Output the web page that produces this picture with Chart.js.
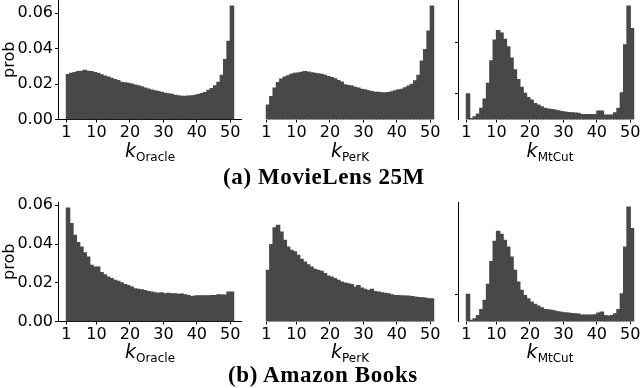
<!DOCTYPE html>
<html>
<head>
<meta charset="utf-8">
<script src="https://cdn.jsdelivr.net/npm/chart.js@4/dist/chart.umd.min.js"></script>
<style>
  body { margin: 0; width: 640px; height: 388px; overflow: hidden; background: #fff; position: relative; }
  canvas { position: absolute; }
  .xl { position: absolute; transform: translate(-50%, -50%); font-family: "DejaVu Sans"; font-size: 19px; white-space: nowrap; color: #000; }
  .xl sub { font-style: normal; font-size: 12px; vertical-align: -4px; }
  .cap { position: absolute; transform: translate(-50%, -50%); font-family: "Liberation Serif"; font-weight: bold; font-size: 23px; letter-spacing: 0.6px; white-space: nowrap; color: #000; }
</style>
</head>
<body>
<canvas id="ml1"></canvas><canvas id="ml2"></canvas><canvas id="ml3"></canvas>
<canvas id="ab1"></canvas><canvas id="ab2"></canvas><canvas id="ab3"></canvas>

<div class="xl" style="left:150px;top:151px"><i>k</i><sub>Oracle</sub></div>
<div class="xl" style="left:350px;top:151px"><i>k</i><sub>PerK</sub></div>
<div class="xl" style="left:550px;top:151px"><i>k</i><sub>MtCut</sub></div>
<div class="cap" style="left:324px;top:177px">(a) MovieLens 25M</div>
<div class="xl" style="left:150px;top:352px"><i>k</i><sub>Oracle</sub></div>
<div class="xl" style="left:350px;top:352px"><i>k</i><sub>PerK</sub></div>
<div class="xl" style="left:550px;top:352px"><i>k</i><sub>MtCut</sub></div>
<div class="cap" style="left:323px;top:375px">(b) Amazon Books</div>

<script>
// k = 1..50 (histogram bins [k, k+1))
const ks = [1,2,3,4,5,6,7,8,9,10,11,12,13,14,15,16,17,18,19,20,21,22,23,24,25,
            26,27,28,29,30,31,32,33,34,35,36,37,38,39,40,41,42,43,44,45,46,47,48,49,50];
const xTicks = [1, 10, 20, 30, 40, 50];
const probTicks = [0, 0.02, 0.04, 0.06];
const mlMtCutTicks = [0.05, 0.15];
const abMtCutTicks = [0.05];

// MovieLens 25M
const mlOracle = [0.0253,0.026,0.0265,0.027,0.0272,0.0278,0.0272,0.027,0.0265,0.026,
                  0.0252,0.0245,0.024,0.0232,0.0225,0.022,0.021,0.0207,0.0204,0.02,
                  0.0195,0.019,0.0185,0.0178,0.0172,0.0166,0.0162,0.0158,0.0153,0.0148,
                  0.0145,0.0142,0.0137,0.0133,0.0131,0.0131,0.0132,0.0134,0.0137,0.0141,
                  0.0146,0.0152,0.0165,0.0175,0.019,0.021,0.025,0.0338,0.0442,0.064];
const mlPerK = [0.0081,0.0129,0.0177,0.0209,0.0228,0.0239,0.0247,0.0255,0.026,0.0262,
                0.0266,0.027,0.0268,0.0264,0.026,0.0258,0.0255,0.025,0.0243,0.0237,
                0.023,0.022,0.0211,0.0196,0.0192,0.0188,0.0182,0.0177,0.017,0.0167,
                0.0162,0.0158,0.0154,0.0153,0.0151,0.0151,0.0152,0.0156,0.0162,0.0167,
                0.017,0.0179,0.0188,0.0198,0.0218,0.025,0.033,0.0395,0.05,0.064];
const mlMtCut = [0.05,0.002,0.005,0.0105,0.0216,0.04,0.0706,0.115,0.1556,0.174,
                 0.169,0.157,0.1425,0.12,0.097,0.078,0.063,0.051,0.043,0.038,
                 0.031,0.028,0.025,0.0216,0.0203,0.0196,0.0183,0.017,0.0157,0.0144,
                 0.0137,0.013,0.0124,0.0118,0.0098,0.0098,0.0098,0.0098,0.0098,0.0163,
                 0.0163,0.0085,0.0085,0.0085,0.013,0.0216,0.052,0.146,0.222,0.178];

// Amazon Books
const abOracle = [0.0586,0.0505,0.0445,0.0407,0.0384,0.0355,0.0333,0.029,0.0281,0.0281,
                  0.0252,0.0241,0.0229,0.0221,0.0212,0.0207,0.02,0.0191,0.0186,0.0178,
                  0.0169,0.0166,0.0164,0.0159,0.0155,0.0152,0.0148,0.0145,0.0148,0.0143,
                  0.0145,0.0143,0.0143,0.014,0.0141,0.0138,0.0134,0.0129,0.0131,0.0133,
                  0.0133,0.0133,0.0133,0.0134,0.0134,0.0138,0.0136,0.0136,0.0152,0.0152];
const abPerK = [0.0264,0.0397,0.0483,0.0497,0.0462,0.0419,0.0384,0.0367,0.0359,0.0341,
                0.0321,0.0307,0.0293,0.0281,0.0269,0.0264,0.0259,0.0247,0.0234,0.0229,
                0.0221,0.0212,0.0203,0.0198,0.0195,0.0191,0.0178,0.0186,0.0172,0.0166,
                0.016,0.0166,0.0155,0.0152,0.0148,0.0145,0.0143,0.0138,0.0134,0.0134,
                0.0133,0.0131,0.0131,0.0129,0.0126,0.0124,0.0122,0.0121,0.0117,0.0117];
const abMtCut = [0.05,0.002,0.005,0.011,0.022,0.039,0.0685,0.111,0.148,0.1667,
                 0.161,0.15,0.1377,0.119,0.0944,0.0728,0.0574,0.048,0.042,0.0358,
                 0.0315,0.0284,0.0253,0.0222,0.0216,0.0204,0.0191,0.0179,0.0167,0.016,
                 0.0154,0.0148,0.0142,0.0136,0.0117,0.0117,0.0117,0.0117,0.0123,0.0154,
                 0.0173,0.0111,0.0099,0.011,0.0142,0.022,0.051,0.1377,0.2117,0.1716];

const BAR = '#484848';
const FONT = { family: 'DejaVu Sans', size: 16 };
const TOP_PAD = 12;

// thin vertical line at the right edge of the plot (PerK panels)
const rightSpine = {
  id: 'rightSpine',
  afterDraw(chart) {
    const a = chart.chartArea, ctx = chart.ctx;
    ctx.save();
    ctx.strokeStyle = '#000';
    ctx.lineWidth = 1;
    ctx.beginPath();
    ctx.moveTo(Math.round(a.right) + 0.5, a.top);
    ctx.lineTo(Math.round(a.right) + 0.5, a.bottom);
    ctx.stroke();
    ctx.restore();
  }
};

function panel(id, kind, left, top, values, yMax, yTicks) {
  const cv = document.getElementById(id);
  const width = kind === 'oracle' ? 242 : 194;
  cv.width = width; cv.height = 150 + TOP_PAD;
  cv.style.left = left + 'px'; cv.style.top = (top - TOP_PAD) + 'px';
  const perk = kind === 'perk';

  new Chart(cv, {
    type: 'bar',
    data: {
      datasets: [{
        data: ks.map((k, i) => ({ x: k + 0.5, y: values[i] })),
        backgroundColor: BAR,
        borderWidth: 0,
        inflateAmount: 0.6,
        barPercentage: 1,
        categoryPercentage: 1
      }]
    },
    plugins: perk ? [rightSpine] : [],
    options: {
      responsive: false,
      animation: false,
      devicePixelRatio: 1,
      layout: { padding: { left: 0, right: 0, top: TOP_PAD, bottom: 0 } },
      plugins: { legend: { display: false }, tooltip: { enabled: false } },
      scales: {
        x: {
          type: 'linear', min: -1.5, max: 53.5, offset: false,
          afterBuildTicks: s => { s.ticks = xTicks.map(v => ({ value: v })); },
          afterFit: s => { s.height = 30.5; s.paddingLeft = 0; s.paddingRight = 0; },
          grid: { drawOnChartArea: false, tickLength: 3, color: '#000', offset: false },
          border: { display: kind === 'oracle', color: '#000', width: 1 },
          ticks: { color: '#000', font: FONT, padding: 1, maxRotation: 0, autoSkip: false }
        },
        y: {
          min: 0, max: yMax,
          afterBuildTicks: s => { s.ticks = yTicks.map(v => ({ value: v })); },
          afterFit: s => { s.width = kind === 'oracle' ? 58 : 10; s.paddingTop = 0; s.paddingBottom = 0; },
          grid: { display: !perk, drawOnChartArea: false, tickLength: 3, color: '#000' },
          border: { display: !perk, color: '#000', width: 1 },
          ticks: { display: kind === 'oracle', color: '#000', font: FONT, padding: 2, callback: v => v.toFixed(2) },
          title: { display: kind === 'oracle', text: 'prob', color: '#000', font: FONT, padding: 0 }
        }
      }
    }
  });
}

panel('ml1', 'oracle', 0, 0, mlOracle, 0.0675, probTicks);
panel('ml2', 'perk', 248, 0, mlPerK, 0.0675, probTicks);
panel('ml3', 'mtcut', 448, 0, mlMtCut, 0.234, mlMtCutTicks);
panel('ab1', 'oracle', 0, 201.5, abOracle, 0.0617, probTicks);
panel('ab2', 'perk', 248, 201.5, abPerK, 0.0617, probTicks);
panel('ab3', 'mtcut', 448, 201.5, abMtCut, 0.221, abMtCutTicks);
</script>
</body>
</html>
